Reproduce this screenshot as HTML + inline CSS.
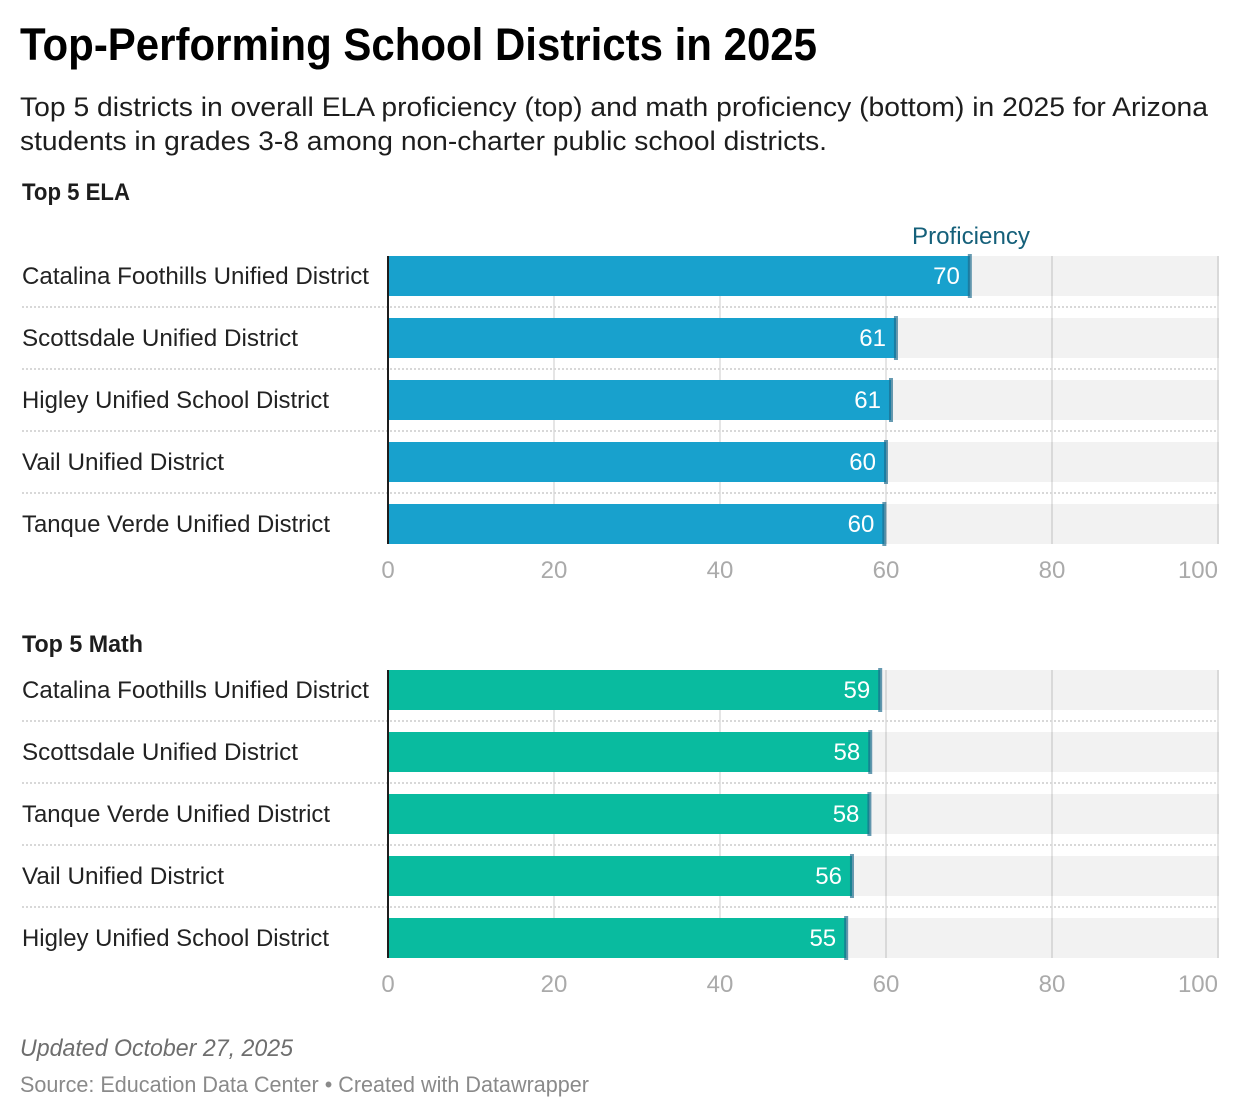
<!DOCTYPE html>
<html lang="en">
<head>
<meta charset="utf-8">
<title>Top-Performing School Districts in 2025</title>
<style>
html,body{margin:0;padding:0;background:#fff;width:1240px;height:1118px;overflow:hidden}
svg{display:block;font-family:"Liberation Sans",Arial,sans-serif}
</style>
</head>
<body>
<svg id="chart" width="1240" height="1118" viewBox="0 0 1240 1118" xmlns="http://www.w3.org/2000/svg">
<text x="20" y="60" font-size="45" font-weight="700" fill="#000" textLength="797" lengthAdjust="spacingAndGlyphs">Top-Performing School Districts in 2025</text>
<text x="20" y="116" font-size="27" fill="#1d1d1d" textLength="1188" lengthAdjust="spacingAndGlyphs">Top 5 districts in overall ELA proficiency (top) and math proficiency (bottom) in 2025 for Arizona</text>
<text x="20" y="150" font-size="27" fill="#1d1d1d" textLength="807" lengthAdjust="spacingAndGlyphs">students in grades 3-8 among non-charter public school districts.</text>
<text x="22" y="200" font-size="24" font-weight="700" fill="#1d1d1d" textLength="108" lengthAdjust="spacingAndGlyphs">Top 5 ELA</text>
<text x="912" y="244" font-size="24" fill="#15607a" textLength="118" lengthAdjust="spacingAndGlyphs">Proficiency</text>
<text x="22" y="652" font-size="24" font-weight="700" fill="#1d1d1d" textLength="121" lengthAdjust="spacingAndGlyphs">Top 5 Math</text>
<text x="20" y="1056" font-size="24" font-style="italic" fill="#6e6e6e" textLength="273" lengthAdjust="spacingAndGlyphs">Updated October 27, 2025</text>
<text x="20" y="1092" font-size="22" fill="#8a8a8a" textLength="569" lengthAdjust="spacingAndGlyphs">Source: Education Data Center • Created with Datawrapper</text>
</svg>
<script>
const elaDistricts = ["Catalina Foothills Unified District", "Scottsdale Unified District", "Higley Unified School District", "Vail Unified District", "Tanque Verde Unified District"];
const elaValues = [70.1, 61.2, 60.6, 60.0, 59.8];
const mathDistricts = ["Catalina Foothills Unified District", "Scottsdale Unified District", "Tanque Verde Unified District", "Vail Unified District", "Higley Unified School District"];
const mathValues = [59.3, 58.1, 58.0, 55.9, 55.2];
const axisTicks = [0, 20, 40, 60, 80, 100];

const NS = "http://www.w3.org/2000/svg";
const svg = document.getElementById("chart");
const AXIS_MIN = 0, AXIS_MAX = 100, PLOT_LEFT = 388, PLOT_RIGHT = 1218;
const BAR_H = 40, ROW_STEP = 62;
const LABEL_WIDTHS = {
  "Catalina Foothills Unified District": 347,
  "Scottsdale Unified District": 276,
  "Higley Unified School District": 307,
  "Vail Unified District": 202,
  "Tanque Verde Unified District": 308
};

function xScale(v) {
  return PLOT_LEFT + (v - AXIS_MIN) / (AXIS_MAX - AXIS_MIN) * (PLOT_RIGHT - PLOT_LEFT);
}
function make(tag, parent, props) {
  const el = document.createElementNS(NS, tag);
  for (const k in props) el.setAttribute(k, props[k]);
  parent.appendChild(el);
  return el;
}

function drawPanel(panelName, top, districts, values, color) {
  const g = make("g", svg, {});
  
  
  const n = districts.length;
  const bottom = top + (n - 1) * ROW_STEP + BAR_H;

  districts.forEach(function (d, i) {
    const y = top + i * ROW_STEP;
    const bg = make("rect", g, {x: PLOT_LEFT, y: y, width: PLOT_RIGHT - PLOT_LEFT + 1, height: BAR_H, fill: "#f2f2f2"});
    
    
  });

  axisTicks.forEach(function (t) {
    if (t === AXIS_MIN) return;
    const x = xScale(t);
    const line = make("line", g, {x1: x, x2: x, y1: top, y2: bottom, stroke: "#000", "stroke-opacity": 0.1, "stroke-width": 2});
    
    
  });

  districts.forEach(function (d, i) {
    if (i === n - 1) return;
    const y = top + i * ROW_STEP + BAR_H + 11;
    const sep = make("line", g, {x1: 22, x2: PLOT_RIGHT, y1: y, y2: y, stroke: "#d8d8d8", "stroke-width": 2, "stroke-dasharray": "2 2"});
    
    
  });

  districts.forEach(function (d, i) {
    const y = top + i * ROW_STEP;
    const v = values[i];
    const x = xScale(v);

    const label = make("text", g, {x: 22, y: y + 28, "font-size": 24, fill: "#222", textLength: LABEL_WIDTHS[d], lengthAdjust: "spacingAndGlyphs"});
    
    
    label.textContent = d;

    const bar = make("rect", g, {x: PLOT_LEFT, y: y, width: x - PLOT_LEFT, height: BAR_H, fill: color});
    
    

    const mark = make("rect", g, {x: x - 2, y: y - 2, width: 4, height: BAR_H + 4, fill: "#1d6a8c", "fill-opacity": 0.68});
    
    

    const val = make("text", g, {x: x - 10, y: y + 28, "font-size": 24, fill: "#fff", "text-anchor": "end"});
    
    
    val.textContent = Math.round(v);
  });

  const axis = make("line", g, {x1: PLOT_LEFT, x2: PLOT_LEFT, y1: top, y2: bottom, stroke: "#1d1d1d", "stroke-width": 2});
  
  

  axisTicks.forEach(function (t) {
    const anchor = t === AXIS_MAX ? "end" : "middle";
    const tick = make("text", g, {x: xScale(t), y: bottom + 34, "font-size": 24, fill: "#aaaaaa", "text-anchor": anchor});
    
    
    tick.textContent = t;
  });
}

drawPanel("ela", 256, elaDistricts, elaValues, "#18a1cd");
drawPanel("math", 670, mathDistricts, mathValues, "#09bb9f");
</script>
</body>
</html>
